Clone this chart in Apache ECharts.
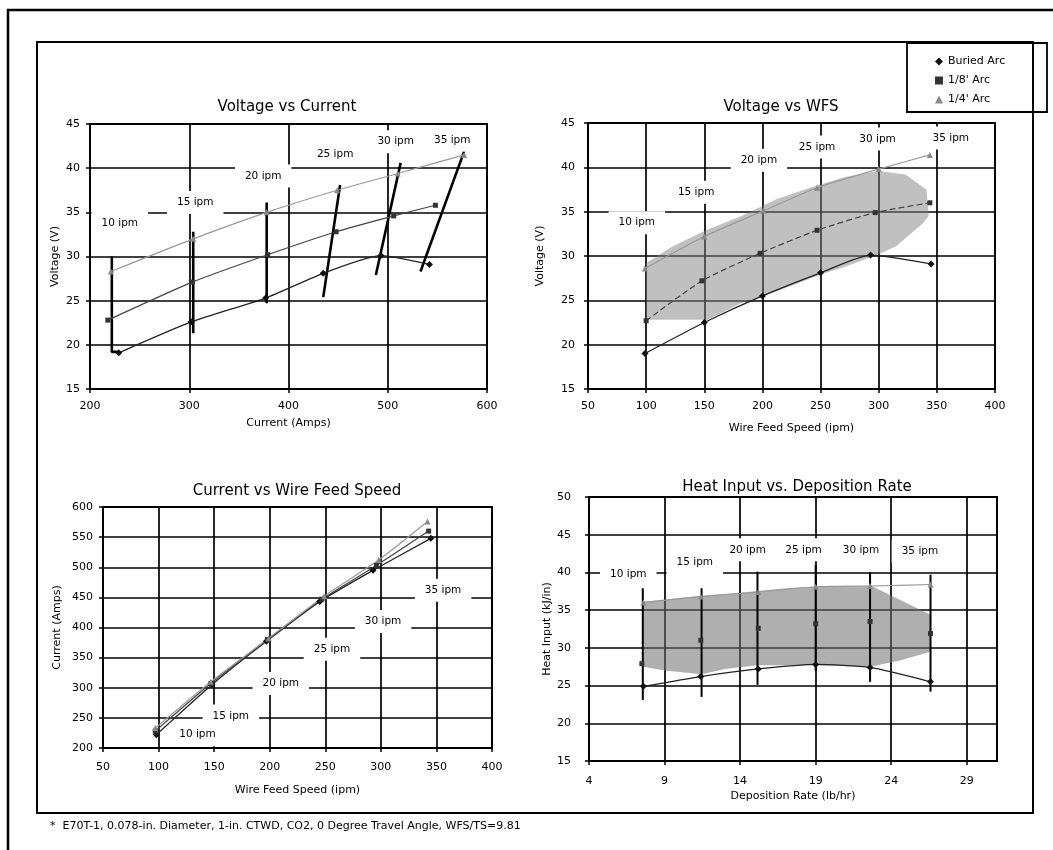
<!DOCTYPE html>
<html><head><meta charset="utf-8">
<script src="https://cdn.jsdelivr.net/npm/echarts@6/dist/echarts.min.js"></script>
<style>html,body{margin:0;padding:0;background:#fff}#c{width:1053px;height:850px}</style>
</head><body><div id="c"></div>
<script>
// ---------- data ----------
const seriesNames = ['Buried Arc', "1/8' Arc", "1/4' Arc"];
const lpmLabels = ['10 ipm', '15 ipm', '20 ipm', '25 ipm', '30 ipm', '35 ipm'];
const titles = ['Voltage vs Current', 'Voltage vs WFS', 'Current vs Wire Feed Speed', 'Heat Input vs. Deposition Rate'];
const footnote = '*  E70T-1, 0.078-in. Diameter, 1-in. CTWD, CO2, 0 Degree Travel Angle, WFS/TS=9.81';

// Voltage vs Current  [current, voltage]
const buriedVC  = [[229,19.1],[302,22.6],[377,25.3],[435,28.1],[493,30.1],[542,29.1]];
const eighthVC  = [[218,22.8],[303,27.1],[379,30.2],[448,32.8],[506,34.6],[548,35.8]];
const quarterVC = [[221,28.3],[304,32.0],[378,35.0],[449,37.5],[510,39.4],[577,41.5]];
const isoVC = [
  [[229,19.2],[222,19.2],[222,30.0]],
  [[304,21.3],[304,32.8]],
  [[378,24.7],[378,36.1]],
  [[435,25.4],[452,38.1]],
  [[488,27.9],[513,40.6]],
  [[533,28.3],[577,41.9]]
];
const labelVC = [[230,33.75],[306,36.1],[374.5,39.1],[447,41.6],[508,43.0],[565,43.2]];

// Voltage vs WFS  [wfs, voltage]
const buriedVW  = [[99,19.0],[150,22.5],[200,25.5],[250,28.1],[293,30.1],[345,29.1]];
const eighthVW  = [[100,22.7],[148,27.2],[198,30.3],[247,32.9],[297,34.9],[344,36.0]];
const quarterVW = [[99,28.6],[150,32.2],[201,35.1],[247,37.7],[300,39.8],[344,41.4]];
const shadeVW = [[100,22.8],[100,29.2],[123,31.1],[153,33.0],[182,34.5],[212,36.4],[241,37.7],[271,38.9],[300,39.6],[323,39.2],[341,37.5],[343,34.5],[338,33.7],[315,31.1],[300,30.2],[271,28.8],[250,27.9],[212,26.0],[182,24.7],[153,22.8]];
const labelVW = [[92,33.75],[143,37.2],[197,40.8],[247,42.3],[299,43.2],[362,43.3]];

// Current vs Wire Feed Speed  [wfs, current]
const buriedCW  = [[98,222],[148,305],[197,377],[245,443],[293,495],[345,548]];
const eighthCW  = [[97,228],[147,307],[198,380],[247,447],[296,503],[343,560]];
const quarterCW = [[97,233],[147,310],[199,382],[249,452],[298,512],[342,576]];
const labelCW = [[135,222],[165,253],[210,307],[256,364],[302,410],[356,462]];

// Heat Input vs Deposition Rate  [lb/hr, kJ/in]
const buriedHD  = [[7.6,24.9],[11.4,26.2],[15.2,27.2],[19.0,27.8],[22.6,27.4],[26.6,25.5]];
const eighthHD  = [[7.5,27.9],[11.4,31.0],[15.2,32.6],[19.0,33.2],[22.6,33.5],[26.6,31.9]];
const quarterHD = [[7.6,36.0],[11.4,36.8],[15.2,37.4],[19.0,38.1],[22.6,38.2],[26.6,38.4]];
const isoHD = [
  [[7.56,23.1],[7.56,37.9]],
  [[11.45,23.5],[11.45,37.9]],
  [[15.15,25.1],[15.15,40.1]],
  [[19.0,27.0],[19.0,41.0]],
  [[22.6,25.5],[22.6,40.0]],
  [[26.6,24.2],[26.6,39.7]]
];
const shadeHD = [[7.56,36.1],[9,36.4],[11.45,36.9],[14,37.3],[17,37.9],[19,38.1],[22.7,38.2],[26.6,34.4],[26.6,29.5],[24.5,28.3],[22.6,27.5],[19,27.7],[15.15,27.7],[13,27.2],[11.45,26.5],[9,27.0],[7.56,27.5]];
const labelHD = [[6.6,39.7],[11.0,41.3],[14.5,43.0],[18.2,43.0],[22.0,43.0],[25.9,42.8]];

// ---------- chart ----------
const FONT = 'DejaVu Sans';
const chart = echarts.init(document.getElementById('c'), null, {renderer: 'canvas'});

const grids = [
  {left: 90, top: 124, width: 397, height: 265},
  {left: 588, top: 123, width: 407, height: 266},
  {left: 103, top: 507, width: 389, height: 241},
  {left: 589, top: 497, width: 408, height: 264}
].map(g => Object.assign({show: true, borderColor: '#000', borderWidth: 2, backgroundColor: '#fff'}, g));

function axis(gi, min, max, interval, name, nameGap, margin, isY, extra) {
  return Object.assign({
    type: 'value', gridIndex: gi, min, max, interval,
    name, nameLocation: 'middle', nameGap,
    nameTextStyle: {fontFamily: FONT, fontSize: 11, color: '#000'},
    axisLine: {show: true, onZero: false, lineStyle: {color: '#000', width: 2}},
    axisTick: {show: true, length: 4, lineStyle: {color: '#000', width: 1.5}},
    axisLabel: {fontFamily: FONT, fontSize: 11, color: '#000', margin},
    splitLine: {show: true, lineStyle: {color: '#000', width: 1.7}}
  }, extra || {});
}

const xAxes = [
  axis(0, 200, 600, 100, 'Current (Amps)', 29, 12),
  axis(1, 50, 400, 50, 'Wire Feed Speed (ipm)', 34, 12),
  axis(2, 50, 400, 50, 'Wire Feed Speed (ipm)', 37, 14),
  axis(3, 4, 31, 5, 'Deposition Rate (lb/hr)', 30, 15, false, {axisLabel: {fontFamily: FONT, fontSize: 11, color: '#000', margin: 15, showMaxLabel: false}})
];
const yAxes = [
  axis(0, 15, 45, 5, 'Voltage (V)', 29, 10, true),
  axis(1, 15, 45, 5, 'Voltage (V)', 42, 13, true),
  axis(2, 200, 600, 50, 'Current (Amps)', 40, 10, true),
  axis(3, 15, 50, 5, 'Heat Input (kJ/in)', 35, 18, true)
];

const styles = [
  {symbol: 'diamond', symbolSize: 7, color: '#111', line: {color: '#222', width: 1.3}},
  {symbol: 'rect', symbolSize: 5, color: '#333', line: {color: '#444', width: 1.2}},
  {symbol: 'triangle', symbolSize: 6, color: '#888', line: {color: '#999', width: 1.2}}
];

const series = [];
function dataSeries(gi, sets, opts) {
  sets.forEach((d, k) => {
    const st = styles[k];
    const ls = Object.assign({}, st.line, (opts && opts.lineStyles && opts.lineStyles[k]) || {});
    series.push({
      type: 'line', name: seriesNames[k], xAxisIndex: gi, yAxisIndex: gi,
      data: d, symbol: st.symbol, symbolSize: st.symbolSize, showSymbol: true,
      itemStyle: {color: st.color}, lineStyle: ls, smooth: 0.2, z: 4, silent: true
    });
  });
}
function isoSeries(gi, lines, width) {
  lines.forEach(l => series.push({
    type: 'line', xAxisIndex: gi, yAxisIndex: gi, data: l, symbol: 'none',
    lineStyle: {color: '#000', width}, z: 3, silent: true
  }));
}
function shadeSeries(gi, poly, fill) {
  series.push({
    type: 'custom', xAxisIndex: gi, yAxisIndex: gi, data: [0], silent: true, z: 2,
    renderItem: (p, api) => ({
      type: 'polygon',
      shape: {points: poly.map(pt => api.coord(pt))},
      style: {fill, stroke: 'none'}
    })
  });
}
function labelSeries(gi, pos) {
  series.push({
    type: 'custom', xAxisIndex: gi, yAxisIndex: gi, silent: true, z: 6,
    data: pos,
    renderItem: (p, api) => {
      const c = api.coord([api.value(0), api.value(1)]);
      return {
        type: 'text', x: c[0], y: c[1],
        style: {text: lpmLabels[p.dataIndex], font: '10.5px "DejaVu Sans"', fill: '#000',
                align: 'center', verticalAlign: 'middle', backgroundColor: '#fff', padding: [6, 10]}
      };
    }
  });
}

// plot 1
isoSeries(0, isoVC, 2.6);
dataSeries(0, [buriedVC, eighthVC, quarterVC]);
labelSeries(0, labelVC);
// plot 2
shadeSeries(1, shadeVW, 'rgba(130,130,130,0.5)');
dataSeries(1, [buriedVW, eighthVW, quarterVW], {lineStyles: [{}, {type: [6, 3]}, {}]});
labelSeries(1, labelVW);
// plot 3
dataSeries(2, [buriedCW, eighthCW, quarterCW]);
labelSeries(2, labelCW);
// plot 4
shadeSeries(3, shadeHD, 'rgba(110,110,110,0.55)');
isoSeries(3, isoHD, 2);
dataSeries(3, [buriedHD, eighthHD, quarterHD], {lineStyles: [{}, {width: 0}, {}]});
labelSeries(3, labelHD);

const titlePos = [[287, 107], [781, 107], [297, 491], [797, 487]];

chart.setOption({
  animation: false,
  backgroundColor: '#fff',
  grid: grids,
  xAxis: xAxes,
  yAxis: yAxes,
  legend: {
    left: 930, top: 51, orient: 'vertical', itemGap: 8, itemWidth: 8, itemHeight: 8,
    selectedMode: false,
    textStyle: {fontFamily: FONT, fontSize: 11, color: '#000'},
    data: [
      {name: seriesNames[0], icon: 'diamond'},
      {name: seriesNames[1], icon: 'rect'},
      {name: seriesNames[2], icon: 'triangle'}
    ]
  },
  graphic: [
    {type: 'rect', shape: {x: 8, y: 10, width: 1060, height: 860}, style: {fill: 'none', stroke: '#000', lineWidth: 2.5}, silent: true},
    {type: 'rect', shape: {x: 37, y: 42, width: 996, height: 771}, style: {fill: 'none', stroke: '#000', lineWidth: 2}, silent: true},
    {type: 'rect', shape: {x: 907, y: 43, width: 140, height: 69}, style: {fill: 'none', stroke: '#000', lineWidth: 1.8}, silent: true},
    ...titles.map((t, i) => ({
      type: 'text', x: titlePos[i][0], y: titlePos[i][1], silent: true,
      style: {text: t, font: '15px "DejaVu Sans"', fill: '#000', align: 'center', verticalAlign: 'middle'}
    })),
    {type: 'text', x: 50, y: 826, silent: true,
     style: {text: footnote, font: '11px "DejaVu Sans"', fill: '#000', align: 'left', verticalAlign: 'middle'}}
  ],
  series
});
</script></body></html>
